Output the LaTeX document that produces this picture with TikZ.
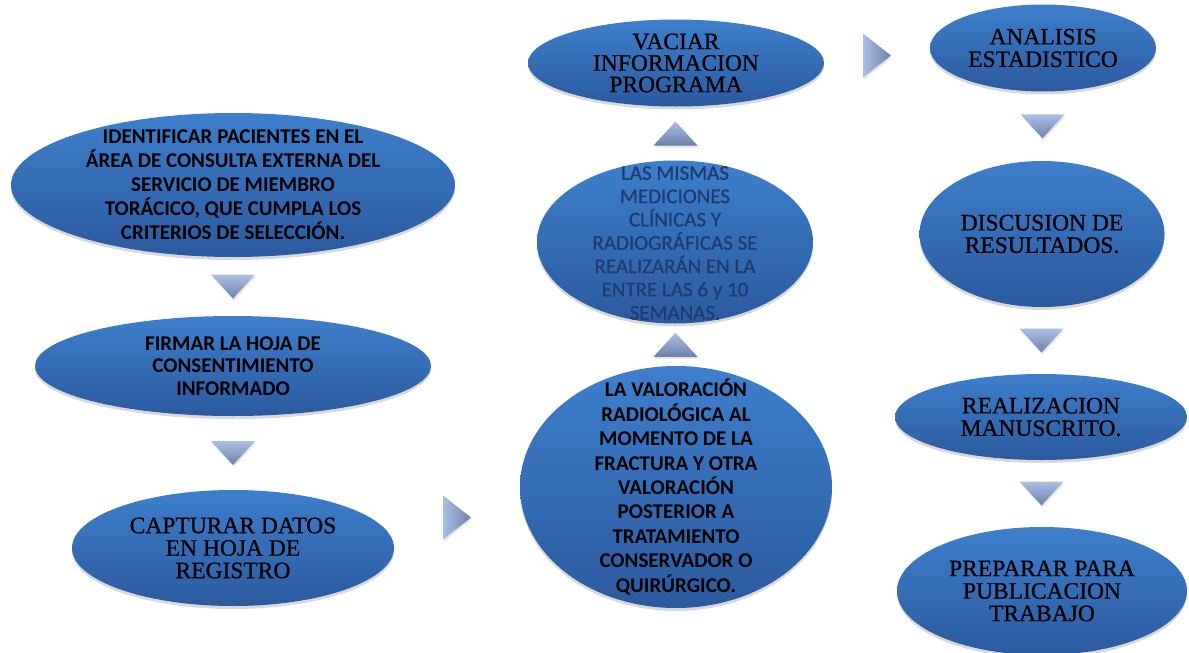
\documentclass[tikz,border=0pt]{standalone}
\usepackage{fontspec}
\setmainfont{Liberation Serif}
\newfontfamily\heavyserif[FakeBold=0.7]{Liberation Serif}
\newfontfamily\carlito{Carlito}
\newfontfamily\carlitomid[FakeBold=0.6]{Carlito}
\usetikzlibrary{shapes.geometric,shadows,calc}

\definecolor{blobtop}{RGB}{62,127,204}
\definecolor{blobbot}{RGB}{43,90,158}
\definecolor{tritop}{RGB}{172,192,230}
\definecolor{tribot}{RGB}{108,128,170}
\definecolor{paletext}{RGB}{30,58,110}

\begin{document}
\begin{tikzpicture}[x=1pt,y=-1pt,
    blob/.style={ellipse, inner sep=0pt, top color=blobtop, bottom color=blobbot,
      drop shadow={shadow xshift=0pt, shadow yshift=-3pt, opacity=.3}},
    sanslabel/.style={align=center, font=\carlito\bfseries\fontsize{21}{24}\selectfont},
    seriflabel/.style={align=center, font=\heavyserif\fontsize{23.5}{22.5}\selectfont},
    downtri/.style={top color=tritop, bottom color=tribot,
      drop shadow={shadow xshift=1pt, shadow yshift=-2pt, opacity=.2}},
    righttri/.style={left color=tritop, right color=tribot,
      drop shadow={shadow xshift=1pt, shadow yshift=-2pt, opacity=.2}}]
  \useasboundingbox (0,0) rectangle (1189,653);

  % left column
  \node[blob, minimum width=444pt, minimum height=144pt] (ident) at (233,185) {};
  \node[sanslabel] (ident-txt) at (ident) {IDENTIFICAR PACIENTES EN EL\\
    ÁREA DE CONSULTA EXTERNA DEL\\SERVICIO DE MIEMBRO\\
    TORÁCICO, QUE CUMPLA LOS\\CRITERIOS DE SELECCIÓN.};
  \node[blob, minimum width=396pt, minimum height=100pt] (firmar) at (233,366) {};
  \node[sanslabel, font=\carlito\bfseries\fontsize{21}{22.5}\selectfont] (firmar-txt) at (firmar)
    {FIRMAR LA HOJA DE\\CONSENTIMIENTO\\INFORMADO};
  \node[blob, minimum width=322pt, minimum height=116pt] (captura) at (233,548) {};
  \node[seriflabel] (captura-txt) at (captura) {CAPTURAR DATOS\\EN HOJA DE\\REGISTRO};

  % middle column
  \node[blob, minimum width=312pt, minimum height=242pt] (valora) at (676,487) {};
  \node[sanslabel, font=\carlito\bfseries\fontsize{21}{24.4}\selectfont] (valora-txt) at (valora)
    {LA VALORACIÓN\\RADIOLÓGICA AL\\MOMENTO DE LA\\FRACTURA Y OTRA\\VALORACIÓN\\
    POSTERIOR A\\TRATAMIENTO\\CONSERVADOR O\\QUIRÚRGICO.};
  \node[blob, minimum width=276pt, minimum height=163pt] (mismas) at (675,242) {};
  \node[align=center, text=paletext, font=\carlitomid\fontsize{21}{23.3}\selectfont] (mismas-txt)
    at (675,243) {LAS MISMAS\\MEDICIONES\\CLÍNICAS Y\\RADIOGRÁFICAS SE\\
    REALIZARÁN EN LA\\ENTRE LAS 6 y 10\\SEMANAS.};
  \node[blob, minimum width=296pt, minimum height=87pt] (vaciar) at (676,63) {};
  \node[seriflabel, font=\heavyserif\fontsize{23.5}{21.5}\selectfont] (vaciar-txt) at (vaciar)
    {VACIAR\\INFORMACION\\PROGRAMA};

  % right column
  \node[blob, minimum width=226pt, minimum height=87pt] (analisis) at (1043,48) {};
  \node[seriflabel] (analisis-txt) at (analisis) {ANALISIS\\ESTADISTICO};
  \node[blob, minimum width=245pt, minimum height=146pt] (discusion) at (1042,234) {};
  \node[seriflabel] (discusion-txt) at (discusion) {DISCUSION DE\\RESULTADOS.};
  \node[blob, minimum width=292pt, minimum height=86pt] (realiza) at (1041,417) {};
  \node[seriflabel] (realiza-txt) at (realiza) {REALIZACION\\MANUSCRITO.};
  \node[blob, minimum width=290pt, minimum height=128pt] (prepara) at (1042,591) {};
  \node[seriflabel] (prepara-txt) at (prepara) {PREPARAR PARA\\PUBLICACION\\TRABAJO};

  % triangles between the steps
  \foreach \a/\b in {ident/firmar, firmar/captura, analisis/discusion,
      discusion/realiza, realiza/prepara} {
    \coordinate (m) at ($(\a.south)!.5!(\b.north)$);
    \shade[downtri] ($(m)+(-22,-12)$) -- ($(m)+(22,-12)$) -- ($(m)+(0,12)$) -- cycle;
  }
  \foreach \a/\b in {valora/mismas, mismas/vaciar} {
    \coordinate (m) at ($(\a.north)!.5!(\b.south)$);
    \shade[downtri] ($(m)+(-22,12)$) -- ($(m)+(22,12)$) -- ($(m)+(0,-12)$) -- cycle;
  }
  \foreach \a/\b in {captura/valora, vaciar/analisis} {
    \coordinate (m) at ($(\a.east)!.5!(\b.west)$);
    \shade[righttri] ($(m)+(-14,-22)$) -- ($(m)+(14,0)$) -- ($(m)+(-14,22)$) -- cycle;
  }
\end{tikzpicture}
\end{document}
